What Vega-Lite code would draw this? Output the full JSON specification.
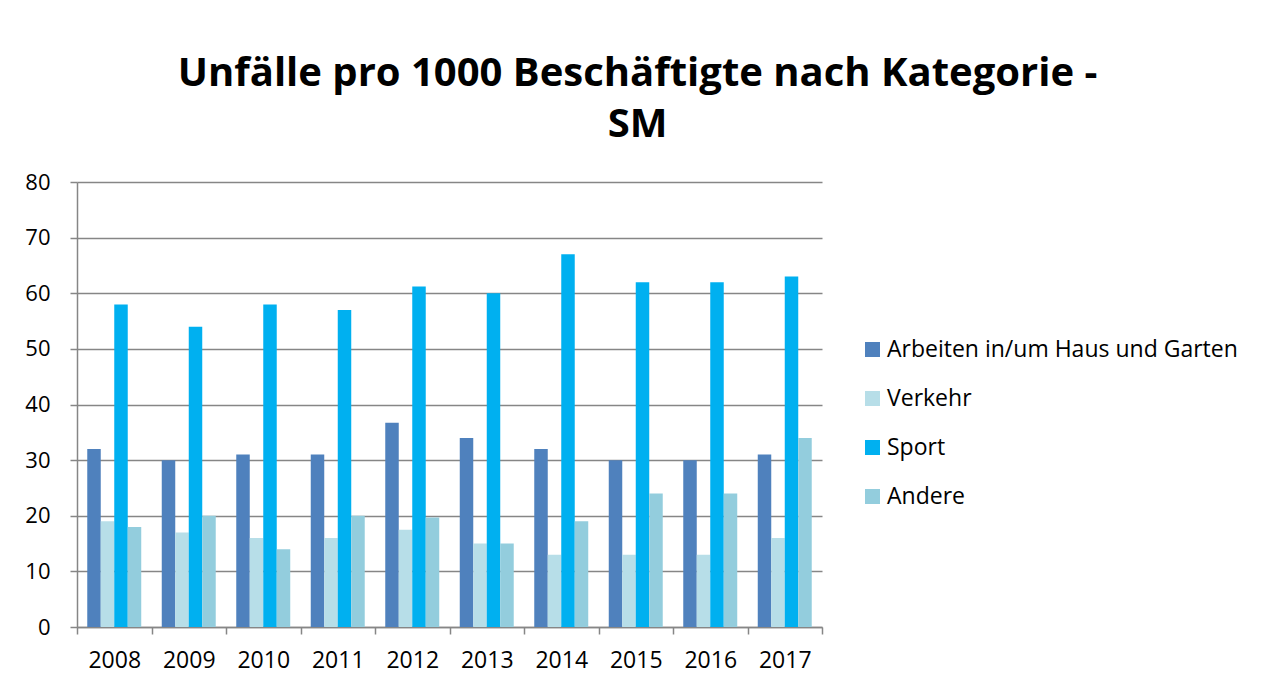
{
  "$schema": "https://vega.github.io/schema/vega-lite/v6.json",
  "autosize": "none",
  "padding": {"left": 77, "top": 182, "right": 446, "bottom": 58},
  "width": 745,
  "height": 445,
  "background": "white",
  "title": {
    "text": ["Unfälle pro 1000 Beschäftigte nach Kategorie -", "SM"],
    "anchor": "middle",
    "frame": "group",
    "dx": 188,
    "offset": 26,
    "font": "Open Sans",
    "fontWeight": "bold",
    "fontSize": 40,
    "lineHeight": 51,
    "color": "#000000"
  },
  "data": {
    "values": [
      {"Jahr": "2008", "Kategorie": "Arbeiten in/um Haus und Garten", "Wert": 32},
      {"Jahr": "2008", "Kategorie": "Verkehr", "Wert": 19},
      {"Jahr": "2008", "Kategorie": "Sport", "Wert": 58},
      {"Jahr": "2008", "Kategorie": "Andere", "Wert": 18},
      {"Jahr": "2009", "Kategorie": "Arbeiten in/um Haus und Garten", "Wert": 30},
      {"Jahr": "2009", "Kategorie": "Verkehr", "Wert": 17},
      {"Jahr": "2009", "Kategorie": "Sport", "Wert": 54},
      {"Jahr": "2009", "Kategorie": "Andere", "Wert": 20},
      {"Jahr": "2010", "Kategorie": "Arbeiten in/um Haus und Garten", "Wert": 31},
      {"Jahr": "2010", "Kategorie": "Verkehr", "Wert": 16},
      {"Jahr": "2010", "Kategorie": "Sport", "Wert": 58},
      {"Jahr": "2010", "Kategorie": "Andere", "Wert": 14},
      {"Jahr": "2011", "Kategorie": "Arbeiten in/um Haus und Garten", "Wert": 31},
      {"Jahr": "2011", "Kategorie": "Verkehr", "Wert": 16},
      {"Jahr": "2011", "Kategorie": "Sport", "Wert": 57},
      {"Jahr": "2011", "Kategorie": "Andere", "Wert": 20},
      {"Jahr": "2012", "Kategorie": "Arbeiten in/um Haus und Garten", "Wert": 36.7},
      {"Jahr": "2012", "Kategorie": "Verkehr", "Wert": 17.5},
      {"Jahr": "2012", "Kategorie": "Sport", "Wert": 61.2},
      {"Jahr": "2012", "Kategorie": "Andere", "Wert": 19.7},
      {"Jahr": "2013", "Kategorie": "Arbeiten in/um Haus und Garten", "Wert": 34},
      {"Jahr": "2013", "Kategorie": "Verkehr", "Wert": 15},
      {"Jahr": "2013", "Kategorie": "Sport", "Wert": 60},
      {"Jahr": "2013", "Kategorie": "Andere", "Wert": 15},
      {"Jahr": "2014", "Kategorie": "Arbeiten in/um Haus und Garten", "Wert": 32},
      {"Jahr": "2014", "Kategorie": "Verkehr", "Wert": 13},
      {"Jahr": "2014", "Kategorie": "Sport", "Wert": 67},
      {"Jahr": "2014", "Kategorie": "Andere", "Wert": 19},
      {"Jahr": "2015", "Kategorie": "Arbeiten in/um Haus und Garten", "Wert": 30},
      {"Jahr": "2015", "Kategorie": "Verkehr", "Wert": 13},
      {"Jahr": "2015", "Kategorie": "Sport", "Wert": 62},
      {"Jahr": "2015", "Kategorie": "Andere", "Wert": 24},
      {"Jahr": "2016", "Kategorie": "Arbeiten in/um Haus und Garten", "Wert": 30},
      {"Jahr": "2016", "Kategorie": "Verkehr", "Wert": 13},
      {"Jahr": "2016", "Kategorie": "Sport", "Wert": 62},
      {"Jahr": "2016", "Kategorie": "Andere", "Wert": 24},
      {"Jahr": "2017", "Kategorie": "Arbeiten in/um Haus und Garten", "Wert": 31},
      {"Jahr": "2017", "Kategorie": "Verkehr", "Wert": 16},
      {"Jahr": "2017", "Kategorie": "Sport", "Wert": 63},
      {"Jahr": "2017", "Kategorie": "Andere", "Wert": 34}
    ]
  },
  "mark": {"type": "bar"},
  "encoding": {
    "x": {
      "field": "Jahr",
      "type": "nominal",
      "scale": {"paddingInner": 0, "paddingOuter": 0},
      "axis": {
        "title": null,
        "labelAngle": 0,
        "tickBand": "extent",
        "domainColor": "#868686",
        "domainWidth": 1.5,
        "tickColor": "#868686",
        "tickWidth": 1.5,
        "tickSize": 7,
        "labelPadding": 15,
        "labelFont": "Open Sans",
        "labelFontSize": 23,
        "labelColor": "#000000",
        "grid": false
      }
    },
    "xOffset": {
      "field": "Kategorie",
      "type": "nominal",
      "sort": ["Arbeiten in/um Haus und Garten", "Verkehr", "Sport", "Andere"],
      "scale": {"paddingInner": 0, "paddingOuter": 0.76}
    },
    "y": {
      "field": "Wert",
      "type": "quantitative",
      "scale": {"domain": [0, 80], "nice": false},
      "axis": {
        "title": null,
        "values": [0, 10, 20, 30, 40, 50, 60, 70, 80],
        "grid": true,
        "gridColor": "#868686",
        "gridWidth": 1.5,
        "domainColor": "#868686",
        "domainWidth": 1.5,
        "tickColor": "#868686",
        "tickWidth": 1.5,
        "tickSize": 7,
        "labelPadding": 20,
        "labelFont": "Open Sans",
        "labelFontSize": 22,
        "labelColor": "#000000"
      }
    },
    "color": {
      "field": "Kategorie",
      "type": "nominal",
      "sort": ["Arbeiten in/um Haus und Garten", "Verkehr", "Sport", "Andere"],
      "scale": {
        "domain": ["Arbeiten in/um Haus und Garten", "Verkehr", "Sport", "Andere"],
        "range": ["#4F81BD", "#B7DEE8", "#00B0F0", "#93CDDD"]
      },
      "legend": {
        "title": null,
        "orient": "none",
        "legendX": 784,
        "legendY": 156,
        "symbolType": "square",
        "symbolSize": 225,
        "symbolStrokeWidth": 0,
        "labelFont": "Open Sans",
        "labelFontSize": 23,
        "labelColor": "#000000",
        "labelLimit": 420,
        "labelOffset": 3,
        "rowPadding": 25
      }
    }
  },
  "config": {
    "view": {"stroke": null}
  }
}
